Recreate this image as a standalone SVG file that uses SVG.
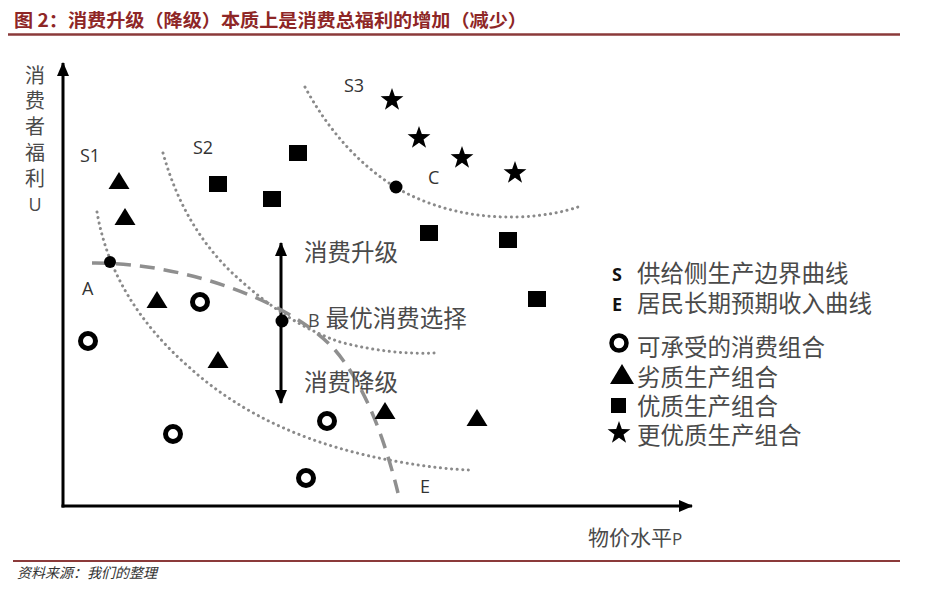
<svg xmlns="http://www.w3.org/2000/svg" width="930" height="595" viewBox="0 0 930 595">
<style>
.title{font-family:"Noto Sans CJK SC",sans-serif;font-weight:bold;font-size:18px;fill:#8E2626}
.rule{stroke:#8B3A3A;stroke-width:2.5}
.src{font-family:"Noto Sans CJK SC",sans-serif;font-style:italic;font-size:14px;fill:#333}
.lbl{font-family:"Open Sans","Noto Sans CJK SC",sans-serif;font-size:18px;fill:#333}
.cn{font-family:"Open Sans","Noto Sans CJK SC",sans-serif;font-size:23.5px;fill:#4a4a4a}
.leg{font-family:"Noto Sans CJK SC",sans-serif;font-size:23.5px;fill:#4a4a4a}
.legk{font-family:"Open Sans","Liberation Sans",sans-serif;font-size:18px;font-weight:bold;fill:#111}
.axis{stroke:#000;stroke-width:3;fill:none}
.sdot{stroke:#8a8a8a;stroke-width:3;fill:none;stroke-dasharray:0.1 5.5;stroke-linecap:round}
.edash{stroke:#8f8f8f;stroke-width:3.5;fill:none;stroke-dasharray:15 9}
.ring{fill:none;stroke:#000;stroke-width:5}
.blk{fill:#000}
</style>
<defs>
<marker id="arr" markerUnits="userSpaceOnUse" markerWidth="14" markerHeight="12" refX="13" refY="6" orient="auto-start-reverse">
<path d="M0,0 L14,6 L0,12 z" fill="#000"/>
</marker>
<polygon id="tri" points="0,-10 10.5,7 -10.5,7"/>
<rect id="sq" x="-9" y="-8" width="18" height="16"/>
<polygon id="star" points="0,-12 2.82,-3.88 11.41,-3.71 4.57,1.48 7.05,9.71 0,4.8 -7.05,9.71 -4.57,1.48 -11.41,-3.71 -2.82,-3.88"/>
<circle id="rg" r="7.5"/>
</defs>
<rect width="930" height="595" fill="#fff"/>

<g id="header">
<text class="title" x="14" y="27" textLength="513" lengthAdjust="spacingAndGlyphs">图 2：消费升级（降级）本质上是消费总福利的增加（减少）</text>
<line class="rule" x1="8" y1="34.5" x2="900" y2="34.5"/>
</g>

<g id="footer">
<line class="rule" x1="13" y1="561" x2="900" y2="561" style="stroke-width:2"/>
<text class="src" x="17" y="578">资料来源：我们的整理</text>
</g>

<g id="axis-labels">
<g class="cn" text-anchor="middle" style="font-size:20px">
<text x="35" y="83">消</text>
<text x="35" y="108">费</text>
<text x="35" y="134">者</text>
<text x="35" y="160">福</text>
<text x="35" y="186">利</text>
<text x="35" y="211" style="font-size:18px">U</text>
</g>
<text class="cn" x="588" y="545" style="font-size:21px">物价水平<tspan style="font-size:17px">P</tspan></text>
</g>

<g id="connectors">
<line class="axis" x1="63" y1="507.5" x2="63" y2="63" marker-end="url(#arr)"/>
<line class="axis" x1="61.5" y1="506" x2="692" y2="506" marker-end="url(#arr)"/>
<line class="axis" x1="281" y1="243" x2="281" y2="403" marker-start="url(#arr)" marker-end="url(#arr)"/>
</g>

<g id="curves">
<path id="S1-curve" class="sdot" d="M97,212 Q112,300 190,368 Q270,440 400,462 Q440,469 470,470"/>
<path id="S2-curve" class="sdot" d="M163,153 Q185,232 240,280 Q290,325 340,342 Q390,355 435,353"/>
<path id="S3-curve" class="sdot" d="M305,87 Q340,152 395,187 Q450,219 520,217 Q555,215 578,207"/>
<path id="E-curve" class="edash" d="M92,263 C180,262 290,300 335,350 C365,385 385,440 398,493"/>
</g>

<g id="curve-labels" class="lbl">
<text x="80" y="162">S1</text>
<text x="193" y="154">S2</text>
<text x="344" y="92">S3</text>
<text x="420" y="493">E</text>
</g>

<g id="point-A">
<circle class="blk" cx="110" cy="262" r="6"/>
<text class="lbl" x="82" y="295">A</text>
</g>
<g id="point-B">
<circle class="blk" cx="282" cy="321" r="6.5"/>
<text class="cn" x="308" y="327"><tspan style="font-size:18px">B</tspan> 最优消费选择</text>
</g>
<g id="point-C">
<circle class="blk" cx="396" cy="187" r="6.5"/>
<text class="lbl" x="428" y="184">C</text>
</g>
<g id="upgrade-label"><text class="cn" x="304" y="261">消费升级</text></g>
<g id="downgrade-label"><text class="cn" x="304" y="391">消费降级</text></g>

<g id="triangles" class="blk">
<use href="#tri" x="119" y="182"/>
<use href="#tri" x="125" y="218"/>
<use href="#tri" x="157" y="301"/>
<use href="#tri" x="218" y="361"/>
<use href="#tri" x="385" y="412"/>
<use href="#tri" x="477" y="419"/>
</g>
<g id="squares" class="blk">
<use href="#sq" x="298" y="153"/>
<use href="#sq" x="218" y="184"/>
<use href="#sq" x="272" y="199"/>
<use href="#sq" x="429" y="233"/>
<use href="#sq" x="508" y="240"/>
<use href="#sq" x="537" y="299"/>
</g>
<g id="stars" class="blk">
<use href="#star" x="392" y="100"/>
<use href="#star" x="419" y="138"/>
<use href="#star" x="462" y="158"/>
<use href="#star" x="515" y="173"/>
</g>
<g id="rings" class="ring">
<use href="#rg" x="200" y="302"/>
<use href="#rg" x="88" y="341"/>
<use href="#rg" x="173" y="434"/>
<use href="#rg" x="327" y="421"/>
<use href="#rg" x="306" y="478"/>
</g>

<g id="legend">
<text class="legk" x="612" y="281">S</text>
<text class="leg" x="637" y="282">供给侧生产边界曲线</text>
<text class="legk" x="612" y="311">E</text>
<text class="leg" x="637" y="312">居民长期预期收入曲线</text>
<use href="#rg" x="619" y="343" class="ring" style="stroke-width:4.5"/>
<text class="leg" x="637" y="356">可承受的消费组合</text>
<polygon points="622,364 634,384 610,384" class="blk"/>
<text class="leg" x="637" y="386">劣质生产组合</text>
<rect x="611" y="398" width="15" height="15" class="blk"/>
<text class="leg" x="637" y="415">优质生产组合</text>
<use href="#star" x="619" y="433" class="blk"/>
<text class="leg" x="637" y="444">更优质生产组合</text>
</g>
</svg>
